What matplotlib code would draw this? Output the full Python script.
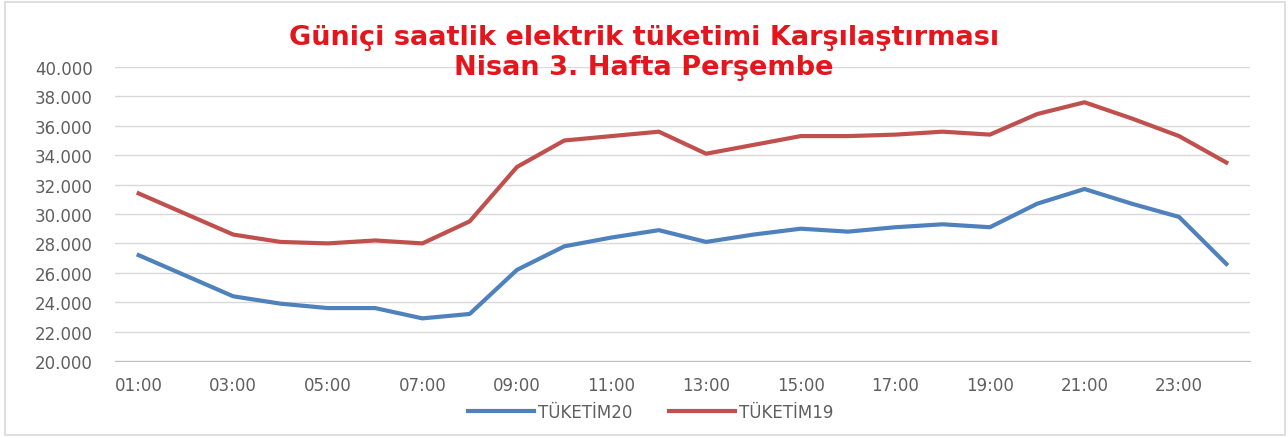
"""Günlük saatlik elektrik tüketimi karşılaştırması (2019 vs 2020)."""
import matplotlib
matplotlib.use("Agg")
import matplotlib.pyplot as plt
from matplotlib.patches import Rectangle
from matplotlib.ticker import FuncFormatter

saatler = list(range(1, 25))
saat_etiketleri = [f"{h:02d}:00" for h in saatler]

tuketim20 = [27200, 25800, 24400, 23900, 23600, 23600, 22900, 23200, 26200, 27800, 28400, 28900,
             28100, 28600, 29000, 28800, 29100, 29300, 29100, 30700, 31700, 30700, 29800, 26600]
tuketim19 = [31400, 30000, 28600, 28100, 28000, 28200, 28000, 29500, 33200, 35000, 35300, 35600,
             34100, 34700, 35300, 35300, 35400, 35600, 35400, 36800, 37600, 36500, 35300, 33500]

MAVI = "#4F81BD"
KIRMIZI = "#C0504D"
GRI = "#5F5F5F"
W, H = 1288, 439

plt.rcParams["font.family"] = ["DejaVu Sans"]

fig = plt.figure(figsize=(W / 100, H / 100), dpi=100)
# plot alanı piksel olarak: x 115..1250, y 68..362
ax = fig.add_axes([115 / W, 1 - 362 / H, 1135 / W, 294 / H])

ax.plot(saatler, tuketim20, color=MAVI, lw=3, label="TÜKETİM20")
ax.plot(saatler, tuketim19, color=KIRMIZI, lw=3, label="TÜKETİM19")

ax.set_xlim(0.5, 24.5)
ax.set_ylim(20000, 40000)
ax.set_yticks(range(20000, 40001, 2000))
ax.yaxis.set_major_formatter(FuncFormatter(lambda v, _: f"{int(v):,}".replace(",", ".")))
ax.set_xticks(saatler[::2])
ax.set_xticklabels(saat_etiketleri[::2])
ax.tick_params(length=0, labelsize=12, labelcolor=GRI)
ax.tick_params(axis="y", pad=16)
ax.tick_params(axis="x", pad=11)
ax.grid(axis="y", color="#D9D9D9", lw=1)
ax.set_axisbelow(True)
for s in ["top", "right", "left"]:
    ax.spines[s].set_visible(False)
ax.spines["bottom"].set_color("#BFBFBF")

fig.text(0.5, 1 - 53 / H, "Güniçi saatlik elektrik tüketimi Karşılaştırması\nNisan 3. Hafta Perşembe",
         ha="center", va="center", color="#E3161D", fontsize=19.5, fontweight="bold",
         linespacing=1.22)

fig.legend(loc="center", bbox_to_anchor=(0.505, 1 - 413 / H), ncol=2, frameon=False,
           fontsize=12, labelcolor=GRI, handlelength=4.0, handletextpad=0.2, columnspacing=2.2)

fig.patches.append(Rectangle((5 / W, 3 / H), 1280 / W, 433 / H, transform=fig.transFigure,
                             fill=False, edgecolor="#D9D9D9", lw=1.2))

fig.savefig("out.png", dpi=100)
